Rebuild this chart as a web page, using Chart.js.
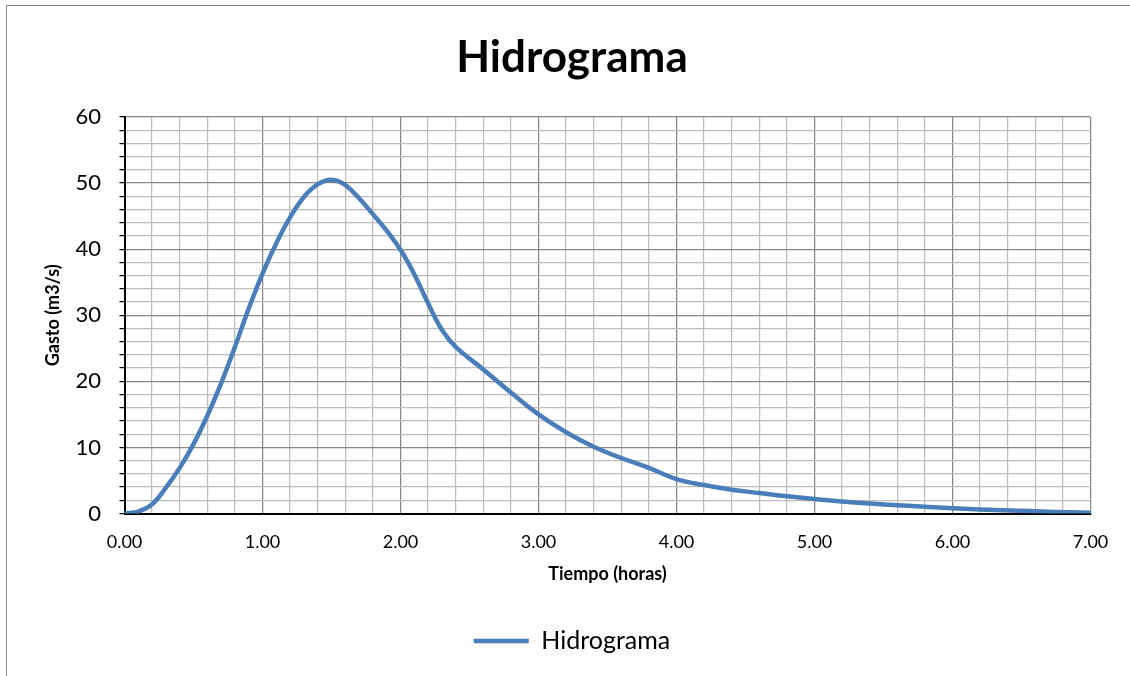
<!DOCTYPE html>
<html>
<head>
<meta charset="utf-8">
<title>Hidrograma</title>
<script src="https://cdn.jsdelivr.net/npm/chart.js@4.4.0/dist/chart.umd.min.js"></script>
<style>
  html, body { margin: 0; padding: 0; background: #fff; overflow: hidden; }
  #marco {
    position: absolute; left: 6px; top: 5px;
    width: 1140px; height: 690px;
    border-left: 1.5px solid #8a8a8a;
    border-top: 1.5px solid #8a8a8a;
  }
  #grafica { position: absolute; left: 0; top: 0; }
</style>
</head>
<body>
<div id="marco"><canvas id="grafica" width="1130" height="670"></canvas></div>
<script>
var tiempo = [0, 0.1, 0.2, 0.3, 0.4, 0.5, 0.6, 0.7, 0.8, 0.9, 1.0, 1.1, 1.2, 1.3, 1.4, 1.5,
              1.6, 1.7, 1.8, 1.9, 2.0, 2.1, 2.2, 2.3, 2.4, 2.6, 2.8, 3.0, 3.2, 3.4, 3.6,
              3.8, 4.0, 4.2, 4.4, 4.6, 4.8, 5.0, 5.4, 6.0, 6.5, 7.0];
var gasto = [0, 0.3, 1.4, 3.9, 6.9, 10.5, 14.8, 19.7, 25.2, 31.0, 36.3, 40.9, 44.8, 47.9, 49.8, 50.5,
             49.7, 47.7, 45.3, 42.8, 39.9, 36.2, 31.8, 27.8, 25.2, 21.8, 18.3, 15.0, 12.3, 10.1, 8.4,
             6.9, 5.2, 4.3, 3.6, 3.1, 2.6, 2.2, 1.5, 0.8, 0.4, 0.1];
var etiquetaSerie = 'Hidrograma';
var tituloX = 'Tiempo (horas)';
var tituloY = 'Gasto (m3/s)';

var puntos = [];
for (var i = 0; i < tiempo.length; i++) {
  puntos.push({x: tiempo[i], y: gasto[i]});
}

function esEntero(v, paso) {
  return Math.abs(v / paso - Math.round(v / paso)) < 1e-6;
}

var azul = '#4a7ebb';
var grisFuerte = '#878787';
var grisSuave = '#bdbdbd';

var ctx = document.getElementById('grafica').getContext('2d');
var chart = new Chart(ctx, {
  type: 'line',
  data: {
    datasets: [{
      label: etiquetaSerie,
      data: puntos,
      borderColor: azul,
      backgroundColor: azul,
      borderWidth: 4.5,
      borderCapStyle: 'round',
      pointRadius: 0,
      pointHoverRadius: 0,
      tension: 0.4,
      fill: false
    }]
  },
  options: {
    responsive: false,
    animation: false,
    devicePixelRatio: 1,
    layout: { padding: { left: 0, right: 0, top: 0, bottom: 12.5 } },
    plugins: {
      title: {
        display: true,
        text: 'Hidrograma',
        color: '#000',
        font: { family: 'Lato', size: 44, weight: 'bold', lineHeight: 1.2 },
        padding: { top: 25.1, bottom: 33.1 }
      },
      legend: {
        display: true,
        position: 'bottom',
        labels: {
          color: '#000',
          font: { family: 'Lato', size: 25, lineHeight: 1.2 },
          usePointStyle: true,
          pointStyle: 'line',
          pointStyleWidth: 55,
          padding: 10
        }
      },
      tooltip: { enabled: false }
    },
    scales: {
      x: {
        type: 'linear',
        min: 0,
        max: 7,
        afterFit: function(scale) { scale.height = 105; },
        ticks: {
          stepSize: 0.2,
          autoSkip: false,
          maxRotation: 0,
          padding: 18,
          color: '#000',
          font: { family: 'Lato', size: 18 },
          callback: function(v) { return esEntero(v, 1) ? v.toFixed(2) : ''; }
        },
        grid: {
          drawTicks: false,
          lineWidth: 1.25,
          color: function(c) { return esEntero(c.tick.value, 1) ? grisFuerte : grisSuave; }
        },
        border: { color: '#000', width: 2 },
        title: {
          display: true,
          text: tituloX,
          color: '#000',
          font: { family: 'Lato', size: 18, weight: 'bold', lineHeight: 1.2 },
          padding: { top: 0, bottom: 33.2 }
        }
      },
      y: {
        min: 0,
        max: 60,
        afterFit: function(scale) { scale.width = 117.5; },
        ticks: {
          stepSize: 2,
          autoSkip: false,
          padding: 18.5,
          color: '#000',
          font: { family: 'Lato', size: 22 },
          callback: function(v) { return esEntero(v, 10) ? v : ''; }
        },
        grid: {
          tickLength: 5,
          lineWidth: 1.25,
          tickColor: '#000',
          color: function(c) { return esEntero(c.tick.value, 10) ? grisFuerte : grisSuave; }
        },
        border: { color: '#000', width: 2 },
        title: {
          display: true,
          text: tituloY,
          color: '#000',
          font: { family: 'Lato', size: 18, weight: 'bold', lineHeight: 1.2 },
          padding: { top: 35.7, bottom: 0 }
        }
      },
      // eje vacio a la derecha, solo reserva el margen
      margenDerecho: {
        position: 'right',
        min: 0,
        max: 60,
        afterFit: function(scale) { scale.width = 46.5; },
        grid: { display: false },
        ticks: { display: false },
        border: { display: false }
      }
    }
  }
});
</script>
</body>
</html>
